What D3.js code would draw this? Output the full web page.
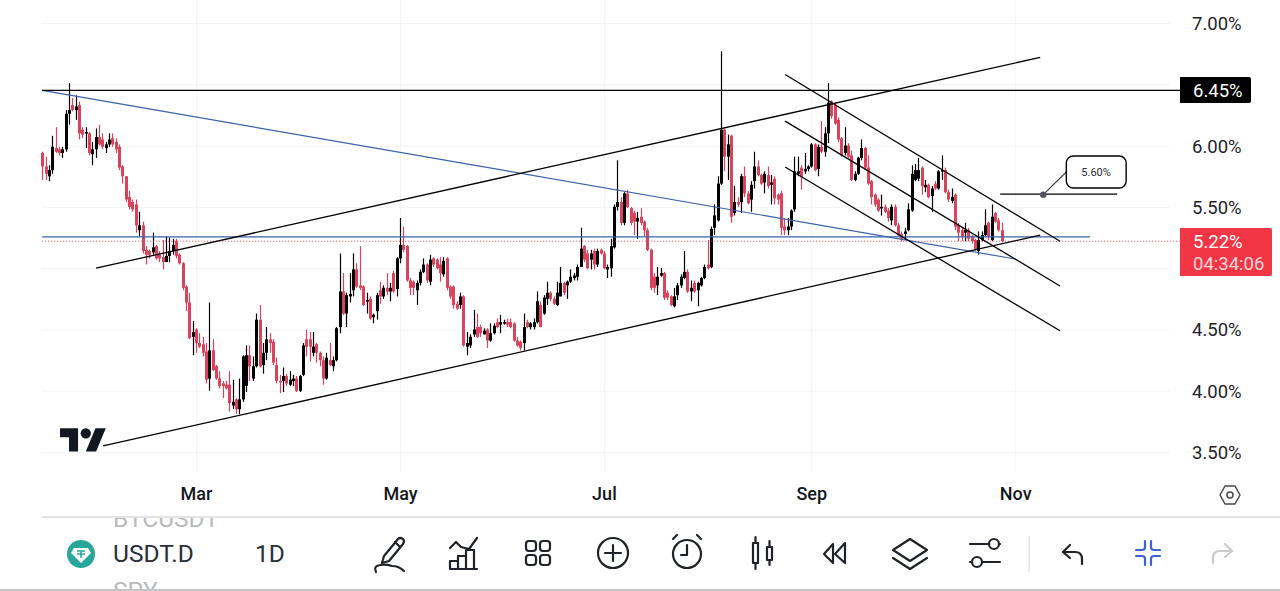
<!DOCTYPE html>
<html>
<head>
<meta charset="utf-8">
<script src="https://cdn.jsdelivr.net/npm/d3@7"></script>
<style>
  html, body { margin: 0; padding: 0; background: #fff; }
  svg { display: block; font-family: Roboto, sans-serif; }
  .grid line { stroke: #f3f4f6; stroke-width: 1; }
  .grid path { display: none; }
  .priceAxis path, .priceAxis line, .timeAxis path, .timeAxis line { display: none; }
  .priceAxis text { font-size: 18.5px; fill: #1f2329; }
  .timeAxis text { font-size: 18px; font-weight: 500; fill: #131722; }
  .icon { fill: none; stroke: #1f2329; stroke-width: 2.2; stroke-linecap: round; stroke-linejoin: round; }
</style>
</head>
<body>
<svg id="chart" width="1280" height="591"></svg>
<script>
// USDT.D daily candles, one entry per bar
var opens = [
  5.94,5.83,5.75,5.80,5.98,5.97,5.94,5.97,6.26,6.33,
  6.29,6.33,6.13,6.10,6.10,5.93,5.97,6.07,6.05,5.98,
  6.01,6.06,6.03,5.99,5.83,5.75,5.58,5.54,5.52,5.31,
  5.35,5.15,5.14,5.13,5.18,5.11,5.09,5.05,5.10,5.14,
  5.22,5.11,5.04,4.85,4.72,4.44,4.50,4.39,4.38,4.32,
  4.10,4.33,4.20,4.10,4.06,4.05,4.05,3.88,3.93,3.85,
  3.93,4.04,4.29,4.10,4.20,4.58,4.21,4.31,4.42,4.40,
  4.21,4.08,4.08,4.12,4.05,4.08,4.10,4.00,4.13,4.42,
  4.42,4.31,4.38,4.31,4.25,4.10,4.25,4.20,4.25,4.52,
  4.81,4.63,4.77,4.82,4.99,4.86,4.85,4.73,4.75,4.60,
  4.65,4.82,4.77,4.84,4.81,4.96,4.83,5.08,5.19,5.18,
  4.90,4.89,4.82,4.88,4.97,5.03,4.89,5.08,5.07,5.03,
  4.95,5.08,4.85,4.85,4.71,4.70,4.77,4.36,4.37,4.46,
  4.52,4.52,4.46,4.50,4.41,4.47,4.56,4.54,4.55,4.56,
  4.56,4.55,4.41,4.40,4.39,4.56,4.52,4.52,4.56,4.70,
  4.63,4.75,4.80,4.75,4.70,4.77,4.88,4.86,4.89,4.92,
  4.93,5.01,5.18,5.12,5.07,5.14,5.03,5.15,5.12,4.99,
  5.00,5.17,5.50,5.54,5.37,5.61,5.49,5.45,5.38,5.42,
  5.38,5.31,5.15,4.93,4.86,4.94,4.96,4.80,4.77,4.69,
  4.78,4.86,4.92,4.97,4.81,4.88,4.82,4.86,4.92,5.03,
  5.01,5.33,5.39,5.69,6.13,5.91,6.08,5.45,5.54,5.54,
  5.75,5.61,5.56,5.71,5.83,5.76,5.70,5.76,5.68,5.73,
  5.60,5.61,5.34,5.31,5.34,5.48,5.77,5.82,5.79,5.81,
  5.83,6.01,5.81,5.99,5.95,6.10,6.36,6.33,6.21,6.06,
  5.94,6.00,5.92,5.72,5.77,5.90,5.98,5.82,5.71,5.60,
  5.56,5.49,5.50,5.47,5.39,5.50,5.35,5.28,5.28,5.31,
  5.47,5.72,5.73,5.82,5.66,5.68,5.59,5.69,5.65,
  5.79,5.80,5.62,5.55,5.60,5.35,5.31,5.29,5.31,5.26,
  5.23,5.14,5.23,5.27,5.37,5.23,5.45,5.39,5.31
];
var highs = [
  5.95,5.91,5.84,6.08,6.15,5.99,5.99,6.29,6.51,6.39,
  6.41,6.36,6.15,6.15,6.11,6.03,6.14,6.17,6.10,6.03,
  6.10,6.10,6.06,6.01,5.84,5.75,5.63,5.56,5.56,5.46,
  5.38,5.18,5.15,5.29,5.19,5.14,5.23,5.26,5.25,5.24,
  5.24,5.12,5.05,4.86,4.80,4.57,4.51,4.47,4.44,4.39,
  4.72,4.42,4.21,4.16,4.08,4.08,4.16,4.09,3.94,4.10,
  4.29,4.37,4.37,4.28,4.63,4.70,4.39,4.52,4.47,4.42,
  4.27,4.13,4.19,4.14,4.16,4.13,4.12,4.13,4.39,4.50,
  4.48,4.48,4.39,4.32,4.28,4.31,4.39,4.28,4.52,5.12,
  4.96,4.80,4.96,5.12,5.04,5.18,4.86,4.80,4.77,4.63,
  4.80,4.89,4.86,4.96,4.88,4.98,5.09,5.41,5.34,5.19,
  4.92,4.90,4.90,4.99,5.08,5.04,5.11,5.09,5.08,5.09,
  5.09,5.09,4.86,4.86,4.73,4.80,4.78,4.48,4.46,4.66,
  4.63,4.54,4.51,4.51,4.55,4.55,4.59,4.62,4.58,4.59,
  4.59,4.56,4.44,4.41,4.63,4.58,4.56,4.59,4.81,4.73,
  4.78,4.89,4.81,4.77,4.89,5.01,4.89,4.90,4.99,4.96,
  5.03,5.33,5.19,5.15,5.15,5.16,5.16,5.16,5.14,5.03,
  5.24,5.52,5.88,5.58,5.62,5.64,5.50,5.47,5.46,5.49,
  5.39,5.33,5.16,4.96,5.01,5.00,4.97,4.82,4.78,4.84,
  4.88,4.95,5.14,4.99,4.90,4.90,4.89,4.93,5.03,5.23,
  5.34,5.52,5.75,6.77,6.14,6.09,6.09,5.67,5.58,5.77,
  5.83,5.63,5.71,5.95,5.88,5.77,5.79,5.83,5.76,5.75,
  5.61,5.63,5.41,5.41,5.48,5.91,5.91,5.84,5.94,5.84,
  6.02,6.02,6.01,6.20,6.15,6.51,6.37,6.35,6.23,6.07,
  6.15,6.02,5.96,5.79,5.91,6.05,5.99,5.92,5.72,5.61,
  5.57,5.60,5.52,5.49,5.52,5.52,5.37,5.30,5.33,5.53,
  5.84,5.85,5.90,5.83,5.72,5.69,5.67,5.71,5.80,
  5.92,5.82,5.64,5.65,5.61,5.37,5.33,5.37,5.33,5.27,
  5.24,5.30,5.30,5.48,5.38,5.52,5.46,5.41,5.37
];
var lows = [
  5.72,5.72,5.71,5.77,5.94,5.92,5.90,5.95,6.17,6.28,
  6.21,6.05,6.06,5.98,5.92,5.84,5.90,6.00,5.97,5.94,
  5.99,5.99,5.94,5.80,5.69,5.54,5.48,5.46,5.29,5.26,
  5.12,5.03,5.08,5.11,5.07,5.05,4.99,5.05,5.05,5.11,
  5.08,5.03,4.82,4.65,4.42,4.29,4.31,4.35,4.28,4.06,
  4.00,4.16,4.09,4.02,3.94,4.01,3.83,3.85,3.81,3.81,
  3.91,3.99,4.08,4.08,4.19,4.19,4.14,4.25,4.31,4.21,
  4.06,3.98,3.99,4.04,4.04,4.04,3.99,3.99,4.12,4.28,
  4.24,4.28,4.23,4.20,4.05,4.09,4.20,4.16,4.24,4.47,
  4.62,4.52,4.72,4.77,4.84,4.82,4.69,4.63,4.58,4.55,
  4.58,4.71,4.75,4.78,4.73,4.80,4.77,5.04,5.13,4.89,
  4.78,4.78,4.70,4.86,4.96,4.88,4.86,5.01,4.99,4.89,
  4.93,4.82,4.75,4.67,4.66,4.67,4.36,4.29,4.35,4.44,
  4.43,4.44,4.46,4.35,4.40,4.46,4.51,4.47,4.54,4.52,
  4.51,4.40,4.36,4.33,4.33,4.51,4.50,4.50,4.55,4.52,
  4.62,4.70,4.73,4.70,4.69,4.77,4.78,4.75,4.88,4.90,
  4.90,5.01,5.05,4.99,4.99,4.99,5.01,5.11,4.99,4.92,
  4.93,5.16,5.47,5.35,5.35,5.49,5.35,5.27,5.24,5.35,
  5.26,5.14,4.82,4.80,4.78,4.93,4.74,4.74,4.69,4.68,
  4.74,4.84,4.91,4.80,4.73,4.80,4.69,4.85,4.91,4.99,
  5.00,5.27,5.38,5.68,5.79,5.72,5.37,5.43,5.50,5.45,
  5.58,5.52,5.46,5.65,5.75,5.68,5.61,5.65,5.52,5.52,
  5.52,5.27,5.27,5.27,5.31,5.46,5.75,5.64,5.77,5.79,
  5.82,5.79,5.75,5.94,5.91,6.02,6.22,6.17,6.03,5.91,
  5.92,5.90,5.71,5.71,5.76,5.88,5.80,5.68,5.52,5.50,
  5.46,5.43,5.45,5.38,5.35,5.34,5.26,5.22,5.23,5.30,
  5.46,5.71,5.71,5.60,5.62,5.57,5.46,5.64,5.64,
  5.72,5.61,5.54,5.53,5.31,5.22,5.22,5.22,5.22,5.20,
  5.14,5.11,5.22,5.26,5.23,5.22,5.37,5.30,5.21
];
var closes = [
  5.83,5.77,5.80,5.99,5.95,5.94,5.97,6.26,6.29,6.29,
  6.32,6.10,6.09,6.11,5.94,5.97,6.07,6.01,5.99,6.01,
  6.05,6.01,5.97,5.82,5.75,5.56,5.50,5.48,5.35,5.35,
  5.14,5.11,5.11,5.17,5.08,5.08,5.05,5.10,5.14,5.19,
  5.10,5.04,4.84,4.72,4.43,4.48,4.39,4.36,4.31,4.09,
  4.33,4.17,4.10,4.04,4.04,4.02,3.90,3.91,3.85,3.93,
  4.28,4.29,4.20,4.20,4.58,4.20,4.31,4.42,4.39,4.23,
  4.08,4.07,4.12,4.06,4.09,4.10,4.00,4.12,4.37,4.36,
  4.36,4.36,4.31,4.25,4.10,4.27,4.21,4.25,4.51,4.81,
  4.63,4.78,4.79,4.99,4.85,4.84,4.70,4.74,4.59,4.62,
  4.78,4.77,4.84,4.81,4.84,4.81,5.08,5.19,5.15,4.90,
  4.84,4.84,4.88,4.97,5.03,4.90,5.07,5.03,5.00,4.96,
  5.06,4.84,4.77,4.70,4.67,4.77,4.37,4.39,4.44,4.50,
  4.44,4.47,4.49,4.41,4.47,4.53,4.52,4.56,4.56,4.54,
  4.52,4.41,4.37,4.35,4.52,4.52,4.55,4.56,4.73,4.52,
  4.76,4.80,4.75,4.71,4.80,4.88,4.80,4.89,4.93,4.94,
  5.01,5.16,5.07,5.00,5.12,5.03,5.14,5.12,5.00,5.01,
  5.18,5.50,5.54,5.37,5.61,5.50,5.37,5.38,5.41,5.37,
  5.31,5.15,4.84,4.84,4.93,4.96,4.76,4.76,4.70,4.77,
  4.86,4.93,4.97,4.81,4.84,4.81,4.88,4.92,5.01,5.00,
  5.32,5.43,5.69,6.13,5.91,6.01,5.42,5.54,5.52,5.75,
  5.61,5.53,5.68,5.83,5.76,5.69,5.77,5.67,5.70,5.57,
  5.56,5.33,5.31,5.34,5.47,5.79,5.79,5.75,5.81,5.83,
  6.01,5.80,5.99,5.95,6.10,6.35,6.24,6.18,6.05,5.92,
  6.00,5.91,5.72,5.77,5.90,5.98,5.82,5.69,5.58,5.52,
  5.47,5.50,5.46,5.41,5.50,5.35,5.27,5.24,5.30,5.48,
  5.77,5.80,5.80,5.67,5.68,5.58,5.65,5.65,5.79,
  5.80,5.62,5.56,5.58,5.34,5.29,5.26,5.31,5.24,5.22,
  5.15,5.23,5.27,5.35,5.26,5.42,5.38,5.31,5.22
];

var monthLabels = ["Mar", "May", "Jul", "Sep", "Nov"];
var monthBars = [46, 107, 168, 230, 291];         // bar number of the 1st of each month
var priceTicks = [7, 6, 5.5, 4.5, 4, 3.5];
var gridPrices = [7, 6.5, 6, 5.5, 5, 4.5, 4, 3.5];
var lastPrice = 5.22;
var lineLevel = 6.45;
var targetLevel = 5.60;

// drawings as [bar, price, bar, price]
var blackLines = [
  [0, 6.45, 340.3, 6.45],
  [16.1, 5.0, 298.5, 6.72],
  [18.2, 3.55, 298.5, 5.27],
  [222.2, 6.58, 304.4, 5.22],
  [222.2, 6.20, 304.4, 4.855],
  [222.2, 5.825, 304.4, 4.49],
  [286.5, 5.605, 321.5, 5.605]
];
var blueLines = [
  [0, 6.45, 291, 5.075],
  [0, 5.255, 313.4, 5.255]
];

var svg = d3.select("#chart");

// Scales
var x = d3.scaleLinear().domain([0, 340.3]).range([42.2, 1180]);
var y = d3.scaleLinear().domain([3.5, 7]).range([452.1, 23]);

// Grid
svg.append("g")
    .attr("class", "grid")
    .attr("transform", "translate(0,472)")
    .call(d3.axisBottom(x).tickValues(monthBars).tickSize(-472).tickFormat(""));

svg.append("g")
    .attr("class", "grid")
    .attr("transform", "translate(1170,0)")
    .call(d3.axisRight(y).tickValues(gridPrices).tickSize(-1128).tickFormat(""));

// Axis labels
svg.append("g")
    .attr("class", "timeAxis")
    .attr("transform", "translate(0,472)")
    .call(d3.axisBottom(x).tickValues(monthBars).tickSize(0).tickPadding(15.6)
      .tickFormat(function(d, i) { return monthLabels[i]; }))
    .selectAll("text").attr("font-family", "Roboto");

svg.append("g")
    .attr("class", "priceAxis")
    .attr("transform", "translate(1192,0.5)")
    .call(d3.axisRight(y).tickValues(priceTicks).tickSize(0).tickPadding(0)
      .tickFormat(function(d) { return d.toFixed(2) + "%"; }))
    .selectAll("text").attr("font-family", "Roboto");

// Logo
var logo = svg.append("g").attr("transform", "translate(60,423) scale(1.29)").attr("fill", "#131722");
logo.append("path").attr("d", "M14 22H7V11H0V4h14v18zM28 22h-8l7.5-18h8L28 22z");
logo.append("circle").attr("cx", 20).attr("cy", 8).attr("r", 4);

// Candles
var red = "#d9435c", black = "#000";
var candleColor = function(d, i) { return closes[i] >= opens[i] ? black : red; };

svg.append("g").selectAll("line")
    .data(closes)
    .enter().append("line")
    .attr("x1", function(d, i) { return Math.round(x(i)) + 0.5; })
    .attr("x2", function(d, i) { return Math.round(x(i)) + 0.5; })
    .attr("y1", function(d, i) { return y(highs[i]); })
    .attr("y2", function(d, i) { return y(lows[i]); })
    .attr("stroke", candleColor)
    .attr("stroke-width", 1.2);

svg.append("g").selectAll("rect")
    .data(closes)
    .enter().append("rect")
    .attr("x", function(d, i) { return Math.round(x(i)) + 0.5 - 1.5; })
    .attr("width", 3)
    .attr("y", function(d, i) { return y(Math.max(opens[i], closes[i])); })
    .attr("height", function(d, i) { return Math.max(1.5, Math.abs(y(opens[i]) - y(closes[i]))); })
    .attr("fill", candleColor);

// Last price dotted line
svg.append("line")
    .attr("x1", x(0)).attr("x2", x(340.3))
    .attr("y1", y(lastPrice)).attr("y2", y(lastPrice))
    .attr("stroke", "#d9435c")
    .attr("stroke-width", 1)
    .attr("stroke-dasharray", "1,2");

// Trend lines
function drawLines(rows, color, width) {
  svg.append("g").selectAll("line")
      .data(rows)
      .enter().append("line")
      .attr("x1", function(d) { return x(d[0]); })
      .attr("y1", function(d) { return y(d[1]); })
      .attr("x2", function(d) { return x(d[2]); })
      .attr("y2", function(d) { return y(d[3]); })
      .attr("stroke", color)
      .attr("stroke-width", width);
}
drawLines(blueLines, "#3a62a8", 1.2);
drawLines(blackLines, "#000", 1.3);

// Price note with its callout
svg.append("line")
    .attr("x1", x(299.4)).attr("y1", y(targetLevel))
    .attr("x2", x(306.3)).attr("y2", y(5.785))
    .attr("stroke", "#434651")
    .attr("stroke-width", 1.2);
svg.append("circle")
    .attr("cx", x(299.4)).attr("cy", y(targetLevel)).attr("r", 3.2)
    .attr("fill", "#50535e");
svg.append("rect")
    .attr("x", x(306.3)).attr("y", y(5.915))
    .attr("width", x(324.2) - x(306.3)).attr("height", y(5.654) - y(5.915))
    .attr("rx", 7)
    .attr("fill", "#fff").attr("stroke", "#000").attr("stroke-width", 1.4);
svg.append("text")
    .attr("x", x(315.2)).attr("y", y(5.785) + 4)
    .attr("text-anchor", "middle")
    .attr("font-size", 11)
    .attr("fill", "#2a2e39")
    .text(targetLevel.toFixed(2) + "%");

// Price tags
svg.append("path")
    .attr("d", "M1180 77h69q2 0 2 2v22q0 2 -2 2h-69z")
    .attr("fill", "#000");
svg.append("text")
    .attr("x", 1193).attr("y", y(lineLevel) + 7)
    .attr("font-size", 18.5).attr("fill", "#fff")
    .text(lineLevel.toFixed(2) + "%");

svg.append("path")
    .attr("d", "M1180 228h90q2 0 2 2v44q0 2 -2 2h-90z")
    .attr("fill", "#f23645");
svg.append("text")
    .attr("x", 1193).attr("y", 248)
    .attr("font-size", 18.5).attr("fill", "#fff")
    .text(lastPrice.toFixed(2) + "%");
svg.append("text")
    .attr("x", 1193).attr("y", 270)
    .attr("font-size", 18.5).attr("fill", "#ffd5da")
    .text("04:34:06");

// Hexagon settings button
var hex = svg.append("g").attr("class", "icon").attr("transform", "translate(1230,495)")
    .style("stroke-width", 1.5).style("stroke", "#434651");
hex.append("path").attr("d", "M-5 -9L5 -9L10 0L5 9L-5 9L-10 0Z");
hex.append("circle").attr("r", 3);

// Toolbar
svg.append("rect").attr("x", 42).attr("y", 516).attr("width", 1238).attr("height", 2).attr("fill", "#e2e3e5");
svg.append("rect").attr("x", 0).attr("y", 589).attr("width", 1280).attr("height", 2).attr("fill", "#c4c5c7");

var defs = svg.append("defs");
defs.append("clipPath").attr("id", "listClip")
    .append("rect").attr("x", 100).attr("y", 518).attr("width", 200).attr("height", 71);

var list = svg.append("g").attr("clip-path", "url(#listClip)")
    .attr("font-size", 24.5).attr("fill", "#b9babd");
list.append("text").attr("x", 113).attr("y", 527).text("BTCUSDT");
list.append("text").attr("x", 113).attr("y", 599).text("SPY");

svg.append("text").attr("x", 113).attr("y", 562).attr("font-size", 24.5).attr("fill", "#2a2e39").text("USDT.D");
svg.append("text").attr("x", 255).attr("y", 562).attr("font-size", 24.5).attr("fill", "#2a2e39").text("1D");

var coin = svg.append("g").attr("transform", "translate(81,554)");
coin.append("circle").attr("r", 14).attr("fill", "#2aa79b");
coin.append("path").attr("d", "M-7 -6H7L10 -1L0 9L-10 -1Z").attr("fill", "#fff");
coin.append("path").attr("d", "M-4 -3H4M0 -3V4M-4 0H4").attr("stroke", "#2aa79b").attr("stroke-width", 1.6).attr("fill", "none");

function icon(px, py, paths, color) {
  var g = svg.append("g").attr("class", "icon").attr("transform", "translate(" + px + "," + py + ")");
  if (color) g.style("stroke", color);
  paths.forEach(function(p) { g.append("path").attr("d", p); });
  return g;
}

// pencil
icon(390, 553, [
  "M-6 3L8 -14Q10 -16 13 -14Q15 -12 13 -9L-1 8L-8 10Z",
  "M5 -11L10 -6",
  "M-14 19Q-17 13 -10 12Q-4 11 2 13Q9 13 14 18"
]);
// indicators
icon(464, 553, [
  "M-14 -5L-8 -11L-3 -6L5 -4L13 -15",
  "M-14 16V8H-6V16ZM-6 16V3H2V16ZM2 16V-3H10V16ZM-14 16H13"
]);
// layouts
var grid = icon(538, 553, []);
[[-12, -12], [2, -12], [-12, 2], [2, 2]].forEach(function(c) {
  grid.append("rect").attr("x", c[0]).attr("y", c[1]).attr("width", 10).attr("height", 10).attr("rx", 3);
});
// add
var add = icon(613, 553, ["M-8 0H8M0 -8V8"]);
add.append("circle").attr("r", 15);
// alarm
var alarm = icon(687, 553, ["M0 -8V2H-6", "M-14 -14L-10 -18", "M14 -14L10 -18"]);
alarm.append("circle").attr("cy", 1).attr("r", 14);
// candles
icon(762, 553, [
  "M-9 -10H-4V10H-9ZM-6.5 -16V-10M-6.5 10V16",
  "M5 -6H10V7H5ZM7.5 -12V-6M7.5 7V12"
]);
// replay
icon(836, 553, [
  "M-3 -9L-12 1L-3 10V-9Z",
  "M9 -10L-1 1L9 10V-10Z"
]);
// layers
icon(910, 553, [
  "M0 -14L17 -3L0 8L-17 -3Z",
  "M-17 5L0 16L17 5"
]);
// settings
var sliders = icon(985, 553, ["M-15 -9H4M15 -9H14", "M-3 9H15M-15 9H-14"]);
sliders.append("circle").attr("cx", 9).attr("cy", -9).attr("r", 5);
sliders.append("circle").attr("cx", -8).attr("cy", 9).attr("r", 5);

svg.append("rect").attr("x", 1028.5).attr("y", 536).attr("width", 1.2).attr("height", 36).attr("fill", "#dcdde0");

// undo
icon(1073, 554, ["M-3 -9L-10 -2L-3 4", "M-10 -2H2Q9 -2 9 5V10"]);
// collapse
icon(1148, 553, [
  "M-12 -3H-6Q-3 -3 -3 -6V-12",
  "M12 -3H6Q3 -3 3 -6V-12",
  "M-12 3H-6Q-3 3 -3 6V12",
  "M12 3H6Q3 3 3 6V12"
], "#3d62d4");
// redo
icon(1222, 553, ["M3 -9L10 -2L3 4", "M10 -2H-2Q-9 -2 -9 5V10"], "#c9cacc");
</script>
</body>
</html>
